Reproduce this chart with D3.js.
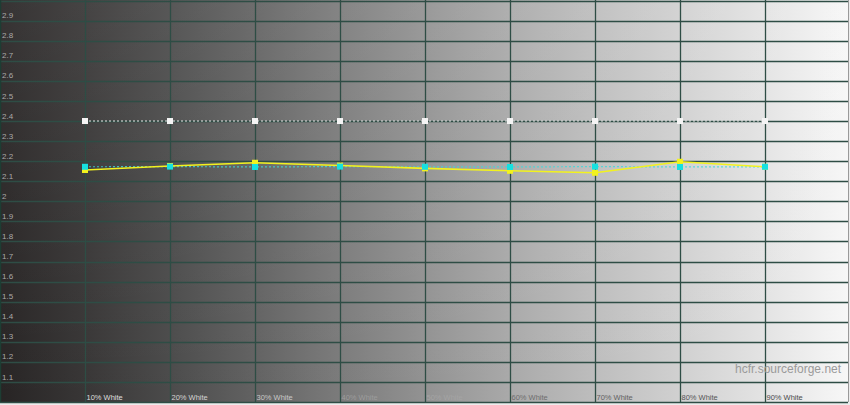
<!DOCTYPE html>
<html>
<head>
<meta charset="utf-8">
<script src="https://cdn.jsdelivr.net/npm/d3@7"></script>
<style>
html,body{margin:0;padding:0;background:#fff;}
svg{display:block;}
text{font-family:"Liberation Sans",Arial,sans-serif;}
</style>
</head>
<body>
<svg id="chart" width="850" height="405"></svg>
<script>
// ---- data ----
const categories = ["10% White","20% White","30% White","40% White","50% White","60% White","70% White","80% White","90% White"];
const levels = [10,20,30,40,50,60,70,80,90];
const measuredGamma = [2.156,2.176,2.192,2.178,2.164,2.152,2.142,2.197,2.172];
const referenceGamma = [2.172,2.173,2.171,2.173,2.172,2.171,2.173,2.171,2.172];
const targetGamma = [2.4,2.4,2.4,2.4,2.4,2.4,2.4,2.4,2.4];
const yTicks = [1.1,1.2,1.3,1.4,1.5,1.6,1.7,1.8,1.9,2,2.1,2.2,2.3,2.4,2.5,2.6,2.7,2.8,2.9];
const watermark = "hcfr.sourceforge.net";

const W = 850, H = 405;
const plotRight = 848;
const svg = d3.select("#chart");
const x = d3.scaleLinear().domain([0,100]).range([0,850]);
const y = d3.scaleLinear().domain([1.0,3.0]).range([402,0.6]);

const defs = svg.append("defs");
const hg = defs.append("linearGradient").attr("id","bgH").attr("x1","0").attr("x2","1").attr("y1","0").attr("y2","0");
[["0","#272424"],["0.1","#383636"],["0.2","#4b4b4b"],["0.3","#626262"],["0.4","#7b7b7b"],["0.5","#929292"],
 ["0.6","#a9a9a9"],["0.7","#bdbdbd"],["0.8","#d0d0d0"],["0.9","#e3e3e3"],["1","#f7f7f7"]]
 .forEach(s=>hg.append("stop").attr("offset",s[0]).attr("stop-color",s[1]));
const vg = defs.append("linearGradient").attr("id","bgV").attr("x1","0").attr("x2","0").attr("y1","0").attr("y2","1");
vg.append("stop").attr("offset","0").attr("stop-color","#fff").attr("stop-opacity",0.07);
vg.append("stop").attr("offset","1").attr("stop-color","#fff").attr("stop-opacity",0);

svg.append("rect").attr("x",0).attr("y",0).attr("width",W).attr("height",H).attr("fill","#ececec");
svg.append("rect").attr("x",0).attr("y",0).attr("width",plotRight).attr("height",y(1.0)).attr("fill","url(#bgH)");
svg.append("rect").attr("x",0).attr("y",0).attr("width",plotRight).attr("height",y(1.0)).attr("fill","url(#bgV)");

const gridColor = "#2e4d45";
// horizontal grid
const hLines = d3.range(10,31).map(d=>d/10);
svg.append("g").selectAll("line").data(hLines).join("line")
  .attr("x1",0).attr("x2",plotRight)
  .attr("y1",d=>Math.round(y(d))+0.5).attr("y2",d=>Math.round(y(d))+0.5)
  .attr("stroke",gridColor).attr("stroke-width",1.3);
// vertical grid
svg.append("g").selectAll("line").data(levels).join("line")
  .attr("x1",d=>Math.round(x(d))+0.5).attr("x2",d=>Math.round(x(d))+0.5)
  .attr("y1",0).attr("y2",y(1.0))
  .attr("stroke",gridColor).attr("stroke-width",1.3);
// left & right borders
svg.append("line").attr("x1",0.5).attr("x2",0.5).attr("y1",0).attr("y2",y(1.0)).attr("stroke","#1d3d33").attr("stroke-width",1.5);
svg.append("line").attr("x1",plotRight+0.5).attr("x2",plotRight+0.5).attr("y1",0).attr("y2",y(1.0)).attr("stroke","#9a9a9a").attr("stroke-width",1);

// y labels
svg.append("g").selectAll("text").data(yTicks).join("text")
  .attr("x",2).attr("y",d=>y(d)-2.4)
  .attr("font-size","8px").attr("fill","#a9a9a9")
  .text(d=>d3.format("")(d));

// x labels
const labelColor = d3.scaleLinear().domain([0,2,3,4,5,8]).range(["#dedede","#c8c8c8","#9c9c9c","#a4a4a4","#6e6e6e","#4a4a4a"]);
svg.append("g").selectAll("text").data(categories).join("text")
  .attr("x",(d,i)=>x(levels[i])+1.5).attr("y",400)
  .attr("font-size","7.5px").attr("fill",(d,i)=>labelColor(i))
  .text(d=>d);

// watermark
svg.append("text").attr("x",735).attr("y",373).attr("font-size","12px").attr("fill","#9a9a9a").text(watermark);

function series(vals){ return vals.map((v,i)=>({x:x(levels[i]),y:y(v)})); }
const line = d3.line().x(d=>d.x).y(d=>d.y);

// target (white dotted)
const tgt = series(targetGamma);
svg.append("path").attr("d",line(tgt)).attr("fill","none").attr("stroke","#e8e8e8").attr("stroke-width",1.2).attr("stroke-dasharray","2,2");
svg.append("g").selectAll("rect").data(tgt).join("rect")
  .attr("x",d=>d.x-3).attr("y",d=>d.y-3).attr("width",6).attr("height",6).attr("fill","#f4f4f4");

// reference (cyan dotted)
const ref = series(referenceGamma);
svg.append("path").attr("d",line(ref)).attr("fill","none").attr("stroke","#3fd8d8").attr("stroke-width",1.2).attr("stroke-dasharray","2,2").attr("opacity",0.8);

// measured (yellow)
const meas = series(measuredGamma);
svg.append("path").attr("d",line(meas)).attr("fill","none").attr("stroke","#f2f21e").attr("stroke-width",1.6);
svg.append("g").selectAll("rect").data(meas).join("rect")
  .attr("x",d=>d.x-3).attr("y",d=>d.y-3).attr("width",6).attr("height",6).attr("fill","#f2f21e");

svg.append("g").selectAll("rect").data(ref).join("rect")
  .attr("x",d=>d.x-3).attr("y",d=>d.y-3).attr("width",6).attr("height",6).attr("fill","#16e0e0");
</script>
</body>
</html>
